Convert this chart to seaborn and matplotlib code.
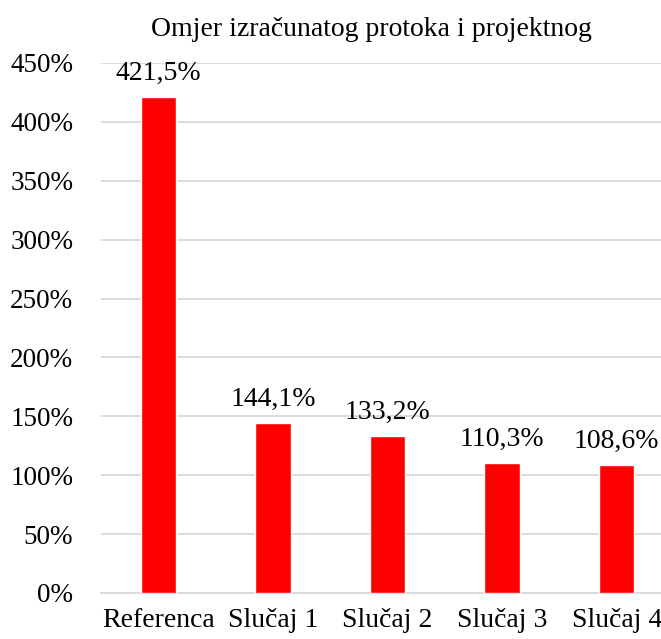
import seaborn as sns
import matplotlib.pyplot as plt
import pandas as pd

categories = ['Referenca', 'Slučaj 1', 'Slučaj 2', 'Slučaj 3', 'Slučaj 4']
values = [421.5, 144.1, 133.2, 110.3, 108.6]

sns.set_style('white')
plt.rcParams['font.family'] = ['Liberation Serif', 'DejaVu Serif']
plt.rcParams['text.color'] = 'black'
plt.rcParams['xtick.color'] = 'black'
plt.rcParams['ytick.color'] = 'black'

data = pd.DataFrame({'Slučaj': categories, 'Omjer': values})

fig = plt.figure(figsize=(6.61, 6.39), dpi=100)
# plot area runs a bit past the right edge, like the cropped original
ax = fig.add_axes([101 / 661, 46 / 639, 573 / 661, 530 / 639])

sns.barplot(data=data, x='Slučaj', y='Omjer', color='#ff0000',
            saturation=1, width=0.31, ax=ax, zorder=3)

ax.set_ylim(0, 450)
ax.set_yticks(range(0, 451, 50))
ax.set_yticklabels([f'{t}%' for t in range(0, 451, 50)])
ax.yaxis.grid(True, color='#d9d9d9', linewidth=1.3, zorder=0)
ax.set_axisbelow(True)
for s in ['top', 'right', 'left']:
    ax.spines[s].set_visible(False)
ax.spines['bottom'].set_color('#d9d9d9')
ax.spines['bottom'].set_linewidth(1.3)
ax.tick_params(axis='both', length=0)
ax.tick_params(axis='x', pad=11, labelsize=20)
ax.tick_params(axis='y', pad=20, labelsize=19.5)
ax.set_xlabel('')
ax.set_ylabel('')

ax.bar_label(ax.containers[0], labels=[f'{v:.1f}%'.replace('.', ',') for v in values],
             padding=8, fontsize=20)

fig.text(371 / 661, 1 - 30 / 639, 'Omjer izračunatog protoka i projektnog',
         ha='center', va='center', fontsize=20)

fig.savefig('out.png', dpi=100)
